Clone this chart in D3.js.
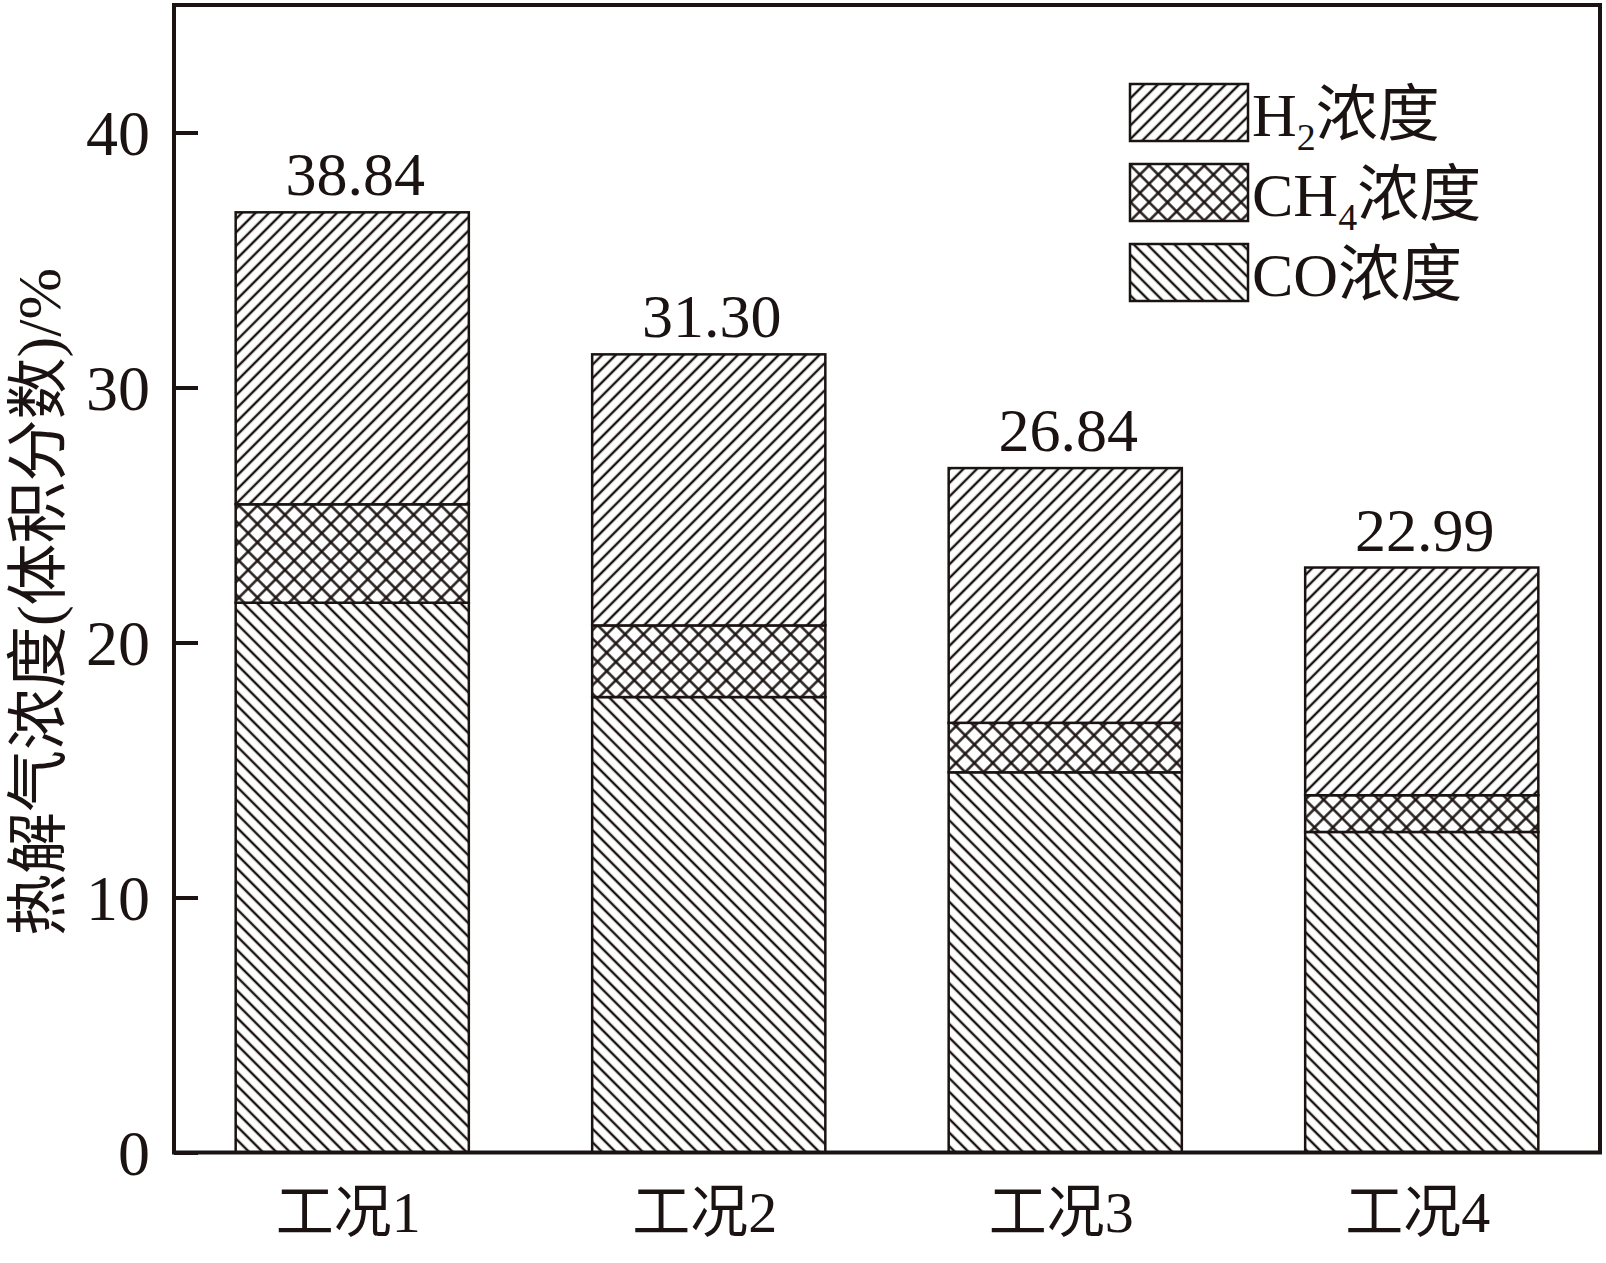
<!DOCTYPE html>
<html>
<head>
<meta charset="utf-8">
<script src="https://cdn.jsdelivr.net/npm/d3@7"></script>
<style>
  body { margin: 0; background: #fff; }
  svg text { font-family: "Liberation Serif", "Noto Sans CJK SC", serif; fill: #1a1311; }
</style>
</head>
<body>
<div id="chart"></div>
<script>
// data
var categories = ["工况1", "工况2", "工况3", "工况4"]
var coValues = [21.56, 17.86, 14.91, 12.57]
var ch4Values = [3.86, 2.81, 1.94, 1.44]
var h2Values = [11.45, 10.63, 9.99, 8.93]
var totalLabels = ["38.84", "31.30", "26.84", "22.99"]
var yTicks = [0, 10, 20, 30, 40]
var seriesKeys = ["co", "ch4", "h2"]

var width = 1606, height = 1263
var plot = {left: 174, right: 1600, top: 5, bottom: 1152.5}
var ink = "#1a1311"

var svg = d3.select("#chart").append("svg")
  .attr("width", width)
  .attr("height", height)

// hatch patterns
var defs = svg.append("defs")
function hatch(id, angles, step) {
  angles.forEach(function(a, i) {
    var p = defs.append("pattern")
      .attr("id", id + (angles.length > 1 ? i : ""))
      .attr("patternUnits", "userSpaceOnUse")
      .attr("width", step).attr("height", step)
      .attr("patternTransform", "rotate(" + a + ")")
    if (i == 0) p.append("rect").attr("width", step).attr("height", step).attr("fill", "#fff")
    p.append("line")
      .attr("x1", step / 2).attr("y1", -1)
      .attr("x2", step / 2).attr("y2", step + 1)
      .attr("stroke", ink).attr("stroke-width", 2.4)
  })
}
hatch("h2", [45], 9.6)
hatch("co", [-45], 9.6)
hatch("ch4", [45, -45], 13)

var fills = {
  h2: ["url(#h2)"],
  co: ["url(#co)"],
  ch4: ["url(#ch40)", "url(#ch41)"]
}

var x = d3.scaleBand()
  .domain(categories)
  .range([plot.left, plot.right])
  .paddingInner(0.346)
  .paddingOuter(0.173)

var y = d3.scaleLinear()
  .domain([0, 45])
  .range([plot.bottom, plot.top])

var rows = categories.map(function(c, i) {
  return {cat: c, co: coValues[i], ch4: ch4Values[i], h2: h2Values[i], label: totalLabels[i]}
})
var stacked = d3.stack().keys(seriesKeys)(rows)

// bars
stacked.forEach(function(s) {
  fills[s.key].forEach(function(f) {
    svg.append("g").selectAll("rect")
      .data(s)
      .enter().append("rect")
      .attr("x", function(d) { return x(d.data.cat) })
      .attr("width", x.bandwidth())
      .attr("y", function(d) { return y(d[1]) })
      .attr("height", function(d) { return y(d[0]) - y(d[1]) })
      .attr("fill", f)
      .attr("stroke", "none")
  })
  svg.append("g").selectAll("rect")
    .data(s)
    .enter().append("rect")
    .attr("x", function(d) { return x(d.data.cat) })
    .attr("width", x.bandwidth())
    .attr("y", function(d) { return y(d[1]) })
    .attr("height", function(d) { return y(d[0]) - y(d[1]) })
    .attr("fill", "none")
    .attr("stroke", ink)
    .attr("stroke-width", 2.5)
})

// value labels on top
var topLayer = stacked[stacked.length - 1]
svg.append("g").selectAll("text")
  .data(topLayer)
  .enter().append("text")
  .attr("x", function(d) { return x(d.data.cat) + x.bandwidth() / 2 + 3 })
  .attr("y", function(d) { return y(d[1]) - 17 })
  .attr("text-anchor", "middle")
  .style("font-size", "62px")
  .text(function(d) { return d.data.label })

// frame
svg.append("rect")
  .attr("x", plot.left).attr("y", plot.top)
  .attr("width", plot.right - plot.left)
  .attr("height", plot.bottom - plot.top)
  .attr("fill", "none")
  .attr("stroke", ink)
  .attr("stroke-width", 4)

// y axis
var yAxis = svg.append("g")
  .attr("transform", "translate(" + plot.left + ",0)")
  .call(d3.axisLeft(y).tickValues(yTicks).tickSizeInner(-24).tickSizeOuter(0).tickPadding(24))
yAxis.select(".domain").remove()
yAxis.selectAll(".tick line").attr("stroke", ink).attr("stroke-width", 4)
yAxis.selectAll(".tick text")
  .attr("font-family", null)
  .style("font-size", "64px")
  .attr("dy", "0.35em")

// x labels
svg.append("g").selectAll("text")
  .data(categories)
  .enter().append("text")
  .attr("x", function(d) { return x(d) + x.bandwidth() / 2 - 4 })
  .attr("y", 1232)
  .attr("text-anchor", "middle")
  .style("font-size", "58px")
  .text(function(d) { return d })

// y title
svg.append("text")
  .attr("transform", "translate(60,602) rotate(-90)")
  .attr("text-anchor", "middle")
  .style("font-size", "62px")
  .text("热解气浓度(体积分数)/%")

// legend
var legendItems = [
  {key: "h2", main: "H", sub: "2", rest: "浓度"},
  {key: "ch4", main: "CH", sub: "4", rest: "浓度"},
  {key: "co", main: "CO", sub: "", rest: "浓度"}
]
var legend = svg.append("g")
legendItems.forEach(function(it, i) {
  var ly = 84 + i * 80
  fills[it.key].forEach(function(f) {
    legend.append("rect")
      .attr("x", 1130).attr("y", ly).attr("width", 118).attr("height", 57)
      .attr("fill", f)
  })
  legend.append("rect")
    .attr("x", 1130).attr("y", ly).attr("width", 118).attr("height", 57)
    .attr("fill", "none").attr("stroke", ink).attr("stroke-width", 2.5)
  var t = legend.append("text")
    .attr("x", 1252).attr("y", ly + 52)
    .style("font-size", "62px")
  t.append("tspan").text(it.main)
  if (it.sub) {
    t.append("tspan").attr("dy", 14).style("font-size", "38px").text(it.sub)
    t.append("tspan").attr("dy", -14).text(it.rest)
  } else {
    t.append("tspan").text(it.rest)
  }
})
</script>
</body>
</html>
